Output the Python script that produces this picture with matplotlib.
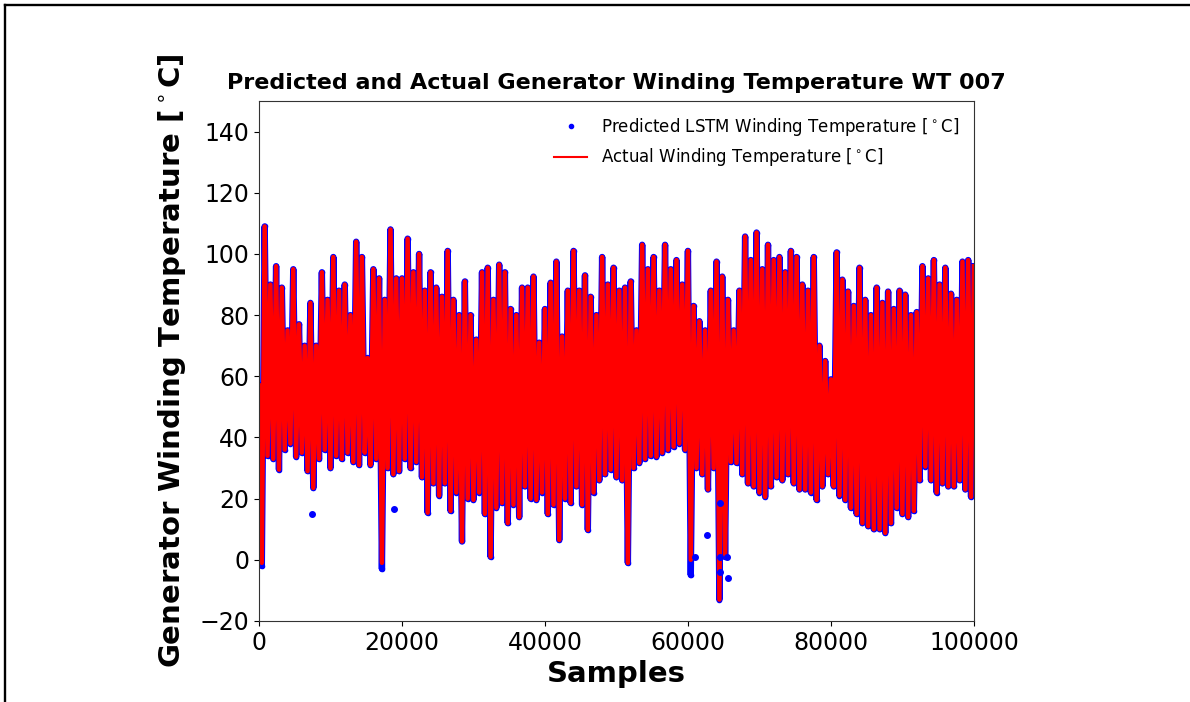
import numpy as np
import matplotlib
matplotlib.use('Agg')
import matplotlib.pyplot as plt
from matplotlib.lines import Line2D

# envelope of the measured signal, one value every 400 samples
# (alternating local peak / local trough, read off the picture)
sample_step = 400
temp_actual = [
    57, -1, 109, 34, 90, 33, 96, 29.5, 89, 36,
    75, 38, 95, 33.7, 77, 35, 70, 29, 84, 23.5,
    70, 33, 94, 36, 85, 30, 99, 34, 88, 33,
    90, 35, 80, 32, 104, 31, 99, 35, 66, 31,
    95, 33, 92, -1, 85, 30, 108, 28, 92, 29,
    92, 33, 105, 30, 94, 32, 100, 27, 88, 15.4,
    94, 25, 89, 21, 86, 25, 101, 16, 85, 22,
    80, 6, 91, 20, 80, 19.6, 72, 22, 94, 15,
    95.5, 1, 85, 17, 96.5, 18.6, 94, 12, 82, 18,
    80, 14, 89, 24, 89, 20, 92.6, 19.6, 71, 22,
    82, 15, 90.6, 18, 97.5, 6.5, 73, 20, 88, 18.6,
    101, 24, 88, 18, 93, 9.8, 86, 22, 80, 26,
    99, 28, 90, 29.5, 95.5, 27, 88, 26, 89, -1,
    91, 30, 75, 31.7, 103, 33, 95, 34, 99, 33.7,
    88, 35, 103, 36, 95, 37, 98, 38, 90, 36,
    101, 0, 83, 30, 78, 28, 75, 23, 88, 30,
    97.5, -13, 92.6, 1, 85, 32, 75, 31.7, 88, 28,
    105.7, 25, 98, 24, 107, 22, 95, 20.6, 103, 24,
    98, 27, 99, 26, 94, 28, 101, 25, 99, 23,
    90, 23, 88, 22, 99, 19.6, 70, 24, 65, 28,
    59, 24, 100.5, 21, 91.6, 19.6, 87.7, 17, 83, 15,
    95.5, 12, 85, 11, 80, 10, 89, 10, 84, 8.8,
    87.7, 12, 82, 17, 88, 15, 86.7, 14, 80, 16,
    81, 26, 96, 30.5, 92, 26, 98, 22, 90, 25,
    95.5, 24, 87, 24, 85, 26, 97.5, 23, 98, 20.6,
    96,
]
samples = np.arange(len(temp_actual)) * sample_step

# LSTM prediction follows the measurement except at the drop-outs
pred_diff_idx = [1, 43, 151]
pred_diff_val = [-2, -3, -5]
# isolated predicted points away from the red trace
pred_extra_x = [7400, 18900, 61000, 62700, 64500, 64500, 64500, 65400, 65600]
pred_extra_y = [15, 16.5, 1, 8, 18.5, 1, -4, 1, -6]

temp_pred = np.array(temp_actual, dtype=float)
temp_pred[pred_diff_idx] = pred_diff_val

fig = plt.figure(figsize=(11.9, 7.02), dpi=100)
ax = fig.add_axes([0.2176, 0.1154, 0.6008, 0.7407])

ax.plot(samples, temp_pred, color='blue', lw=4.6, zorder=1)
ax.plot(samples, temp_pred, '.', color='blue', ms=6, zorder=1,
        label='Predicted LSTM Winding Temperature [$^\\circ$C]')
ax.plot(samples, temp_actual, color='red', lw=3.2, zorder=2,
        label='Actual Winding Temperature [$^\\circ$C]')
ax.plot(pred_extra_x, pred_extra_y, '.', color='blue', ms=8, zorder=3)

ax.set_xlim(0, 100000)
ax.set_ylim(-20, 150)
ax.set_xticks(np.arange(0, 100001, 20000))
ax.set_yticks(np.arange(-20, 141, 20))
ax.tick_params(labelsize=17)
for side in ['left', 'right', 'top', 'bottom']:
    ax.spines[side].set_color('#333333')

ax.set_title('Predicted and Actual Generator Winding Temperature WT 007',
             fontsize=16, fontweight='bold', pad=9)
ax.set_xlabel('Samples', fontsize=21, fontweight='bold')
ax.set_ylabel('Generator Winding Temperature [$^\\circ$C]', fontsize=21, fontweight='bold',
              labelpad=8)

leg = ax.legend(loc='upper right', frameon=False, fontsize=12)
leg.get_lines()[1].set_linewidth(1.5)

# black page border on the left and top
fig.add_artist(Line2D([5 / 1190, 5 / 1190], [0, 1 - 5 / 702], transform=fig.transFigure,
                      color='black', lw=1.7))
fig.add_artist(Line2D([5 / 1190, 1], [1 - 5 / 702, 1 - 5 / 702], transform=fig.transFigure,
                      color='black', lw=1.7))

fig.savefig('out.png', dpi=100)
